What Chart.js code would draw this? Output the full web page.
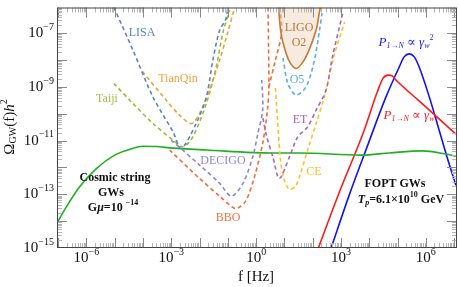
<!DOCTYPE html>
<html>
<head>
<meta charset="utf-8">
<script src="https://cdn.jsdelivr.net/npm/chart.js@4"></script>
<style>
  html, body { margin: 0; padding: 0; background: #fff; }
  #wrap { width: 459px; height: 287px; }
</style>
</head>
<body>
<div id="wrap"><canvas id="gwChart"></canvas></div>
<script>
// ĐƯỜNG CONG ĐỘ NHẠY VÀ PHỔ SÓNG HẤP DẪN (f [Hz], Omega h^2)
const lisaF = [9.33e-6, 4.37e-5, 2.24e-4, 1.15e-3, 2.24e-3, 7.59e-3, 1.74e-2, 2.95e-2, 5.13e-2, 8.32e-2, 0.1];
const lisaOmega = [9.33e-7, 2.4e-8, 4.27e-10, 2.14e-11, 5.13e-12, 4.37e-11, 4.27e-10, 1e-8, 1.32e-7, 3.16e-7, 8.71e-7];

const tianqinF = [9.55e-5, 6.61e-4, 1.95e-3, 5.13e-3, 1e-2, 2.24e-2, 5.13e-2, 9.77e-2, 0.17];
const tianqinOmega = [3.72e-9, 3.24e-10, 8.91e-11, 4.37e-11, 1.02e-10, 7.76e-10, 1.02e-8, 1.02e-7, 8.51e-7];

const taijiF = [9.33e-6, 4.37e-5, 2.24e-4, 1.15e-3, 2.57e-3, 5.75e-3, 1.74e-2, 3.89e-2, 6.61e-2, 0.115];
const taijiOmega = [1.35e-9, 2.45e-10, 4.37e-11, 1.05e-11, 5.89e-12, 1.38e-11, 2.45e-10, 5.62e-9, 1e-7, 7.41e-7];

const decigoF = [1e-3, 1e-2, 5.13e-2, 0.132, 0.339, 0.759, 1.12, 1.7, 1.58];
const decigoOmega = [1.05e-11, 1.23e-12, 2.57e-13, 8.51e-14, 2.51e-13, 2.51e-12, 1.62e-11, 1.38e-10, 1.82e-9];

const bboF = [8.71e-4, 1e-2, 5.13e-2, 0.174, 0.257, 0.447, 0.871, 1.7, 2.51, 2.82, 2.75, 2.63];
const bboOmega = [4.47e-12, 3.89e-13, 8.51e-14, 2.95e-14, 3.31e-14, 6.03e-14, 4.47e-13, 7.94e-12, 1.38e-10, 1e-9, 2.4e-8, 8.91e-7];
// nhánh thứ hai của BBO gần tần số cao
const bboBranchF = [2.82, 4.79, 7.94, 6.92];
const bboBranchOmega = [1e-9, 1e-8, 1.02e-7, 9.12e-7];

const ligoO2F = [6.17, 7.59, 11.5, 16.2, 25.7, 39.8, 66.1, 132, 174, 186];
const ligoO2Omega = [9.12e-7, 1e-7, 1.78e-8, 7.76e-9, 4.9e-9, 7.08e-9, 1.78e-8, 1.32e-7, 6.46e-7, 9.12e-7];

const o5F = [8.91, 13.2, 25.7, 58.9, 115, 174, 214];
const o5Omega = [1.2e-8, 1.35e-9, 5.01e-10, 1.02e-9, 1e-8, 1.32e-7, 5.62e-7];

const etF = [1.74, 2.29, 3.89, 6.61, 15.1, 29.5, 66.1, 132, 295, 501, 1150];
const etOmega = [6.92e-11, 1.62e-11, 2.51e-12, 3.89e-13, 2.51e-12, 1.38e-11, 3.24e-11, 1.38e-10, 7.59e-10, 1.35e-8, 5.62e-7];

const ceF = [4.79, 5.89, 7.24, 10, 15.1, 24.5, 33.9, 66.1, 132, 257, 575, 1350];
const ceOmega = [9.12e-10, 3.8e-11, 1.86e-12, 3.39e-13, 1.51e-13, 2e-13, 4.47e-13, 4.47e-12, 4.37e-11, 4.27e-10, 1.55e-8, 2.63e-7];

const stringF = [9.12e-8, 1.95e-7, 5.75e-7, 2.24e-6, 1e-5, 3.39e-5, 1e-4, 2.95e-4, 1.12e-3, 1.74e-2, 3.8, 33.9, 5250, 5.13e4, 7.41e5, 5.13e6, 1.15e7];
const stringOmega = [8.51e-15, 3.39e-14, 1.91e-13, 9.12e-13, 2.88e-12, 4.68e-12, 6.17e-12, 6.03e-12, 5.25e-12, 4.47e-12, 3.47e-12, 3.47e-12, 2.88e-12, 3.47e-12, 4.17e-12, 3.16e-12, 2.63e-12];

const foptLinearF = [158, 871, 6610, 1.91e4, 3.09e4, 4.79e4, 6.46e4, 8.71e4, 5.89e5, 1.15e7];
const foptLinearOmega = [1e-15, 1.2e-13, 2.45e-11, 6.46e-10, 2.14e-9, 2.75e-9, 2.57e-9, 1.82e-9, 2.95e-10, 1.74e-11];

const foptSquareF = [447, 1950, 7590, 3.89e4, 1.15e5, 1.7e5, 2.57e5, 3.89e5, 5.75e5, 1.32e6, 2.95e6, 5.13e6, 1.15e7];
const foptSquareOmega = [1e-15, 9.33e-14, 4.47e-12, 4.27e-10, 5.62e-9, 1.32e-8, 1.7e-8, 1.32e-8, 5.62e-9, 4.27e-10, 2.45e-11, 3.31e-12, 2.19e-13];

// nhãn trục (số mũ của 10)
const xTickExps = [-6, -3, 0, 3, 6];
const yTickExps = [-7, -9, -11, -13, -15];

const SERIF = '"Liberation Serif", "DejaVu Serif", serif';

function toPoints(fs, omegas) {
  return fs.map((f, i) => ({ x: f, y: omegas[i] }));
}

function curve(label, fs, omegas, color, dashed, extra) {
  return Object.assign(
    {
      label: label,
      data: toPoints(fs, omegas),
      showLine: true,
      borderColor: color,
      borderWidth: 1.6,
      borderDash: dashed ? [4, 3] : [],
      tension: 0.3,
      pointRadius: 0,
      fill: false,
    },
    extra || {}
  );
}

// vẽ chữ có chỉ số trên / dưới
function drawRich(ctx, parts, x, y, align) {
  let total = 0;
  parts.forEach((p) => {
    ctx.font = (p.style || "") + " " + p.size + "px " + SERIF;
    p.w = ctx.measureText(p.t).width;
    total += p.w;
  });
  let cx = align === "right" ? x - total : align === "left" ? x : x - total / 2;
  parts.forEach((p) => {
    ctx.font = (p.style || "") + " " + p.size + "px " + SERIF;
    ctx.fillText(p.t, cx, y + (p.dy || 0));
    cx += p.w;
  });
}

function pow10(exp) {
  return [
    { t: "10", size: 15 },
    { t: String(exp).replace("-", "\u2212"), size: 10, dy: -6 },
  ];
}

const axesPlugin = {
  id: "axesPlugin",
  afterDatasetsDraw(chart) {
    const ctx = chart.ctx;
    const a = chart.chartArea;
    const xs = chart.scales.x;
    const ys = chart.scales.y;
    ctx.save();

    // vạch chia nhỏ hướng vào trong, 4 cạnh
    ctx.lineWidth = 1;
    for (let e = -8; e <= 7; e++) {
      for (let m = 1; m <= 9; m++) {
        const v = m * Math.pow(10, e);
        const len = m === 1 ? 10 : 5;
        ctx.strokeStyle = m === 1 ? "#8a8a8a" : "#b5b5b5";
        const px = Math.round(xs.getPixelForValue(v)) + 0.5;
        if (px > a.left && px < a.right) {
          ctx.beginPath();
          ctx.moveTo(px, a.bottom);
          ctx.lineTo(px, a.bottom - len);
          ctx.moveTo(px, a.top);
          ctx.lineTo(px, a.top + len);
          ctx.stroke();
        }
      }
    }
    for (let e = -16; e <= -6; e++) {
      for (let m = 1; m <= 9; m++) {
        const v = m * Math.pow(10, e);
        const len = m === 1 ? 10 : 5;
        ctx.strokeStyle = m === 1 ? "#8a8a8a" : "#b5b5b5";
        const py = Math.round(ys.getPixelForValue(v)) + 0.5;
        if (py > a.top && py < a.bottom) {
          ctx.beginPath();
          ctx.moveTo(a.left, py);
          ctx.lineTo(a.left + len, py);
          ctx.moveTo(a.right, py);
          ctx.lineTo(a.right - len, py);
          ctx.stroke();
        }
      }
    }

    // khung
    ctx.strokeStyle = "#444";
    ctx.strokeRect(a.left + 0.5, a.top + 0.5, a.right - a.left - 1, a.bottom - a.top - 1);

    // nhãn trục
    ctx.fillStyle = "#111";
    ctx.textBaseline = "middle";
    xTickExps.forEach((e) => {
      drawRich(ctx, pow10(e), xs.getPixelForValue(Math.pow(10, e)), 258, "center");
    });
    yTickExps.forEach((e) => {
      drawRich(ctx, pow10(e), 54, ys.getPixelForValue(Math.pow(10, e)), "right");
    });
    drawRich(ctx, [{ t: "f [Hz]", size: 15 }], 256, 277, "center");

    ctx.save();
    ctx.translate(10, 127);
    ctx.rotate(-Math.PI / 2);
    drawRich(ctx, [
      { t: "\u03A9", size: 15 },
      { t: "GW", size: 10, dy: 3 },
      { t: "(f)", size: 15 },
      { t: "h", size: 15, style: "italic" },
      { t: "2", size: 10, dy: -6 },
    ], 0, 0, "center");
    ctx.restore();

    // tên các máy dò
    const tags = [
      ["LISA", "#5b84c4", 142, 33],
      ["TianQin", "#eea43a", 178, 79],
      ["Taiji", "#a2bf4a", 107, 99],
      ["DECIGO", "#9488d2", 223, 161],
      ["BBO", "#f2703e", 228, 218],
      ["LIGO", "#b8773a", 299, 28],
      ["O2", "#b8773a", 299, 43],
      ["O5", "#5ab0dd", 297, 80],
      ["ET", "#a668b8", 300, 120],
      ["CE", "#f7bd2a", 314, 172],
    ];
    tags.forEach((t) => {
      ctx.fillStyle = t[1];
      drawRich(ctx, [{ t: t[0], size: 12 }], t[2], t[3], "center");
    });

    ctx.fillStyle = "#1a1aff";
    drawRich(ctx, [
      { t: "P", size: 13, style: "italic" },
      { t: "1\u2192N", size: 8, style: "italic", dy: 3 },
      { t: " \u221D ", size: 13 },
      { t: "\u03B3", size: 13, style: "italic" },
      { t: "w", size: 8, style: "italic", dy: 3 },
      { t: "2", size: 8, dy: -5 },
    ], 406, 43, "center");

    ctx.fillStyle = "#ff2020";
    drawRich(ctx, [
      { t: "P", size: 13, style: "italic" },
      { t: "1\u2192N", size: 8, style: "italic", dy: 3 },
      { t: " \u221D ", size: 13 },
      { t: "\u03B3", size: 13, style: "italic" },
      { t: "w", size: 8, style: "italic", dy: 3 },
    ], 409, 116, "center");

    ctx.fillStyle = "#111";
    drawRich(ctx, [{ t: "Cosmic string", size: 12, style: "bold" }], 115, 178, "center");
    drawRich(ctx, [{ t: "GWs", size: 12, style: "bold" }], 111, 193, "center");
    drawRich(ctx, [
      { t: "G", size: 12, style: "bold" },
      { t: "\u03BC", size: 12, style: "italic bold" },
      { t: "=10 ", size: 12, style: "bold" },
      { t: "\u221214", size: 8, style: "bold", dy: -5 },
    ], 113, 208, "center");

    drawRich(ctx, [{ t: "FOPT GWs", size: 12, style: "bold" }], 395, 184, "center");
    drawRich(ctx, [
      { t: "T", size: 12, style: "italic bold" },
      { t: "p", size: 8, style: "italic bold", dy: 3 },
      { t: "=6.1\u00D710", size: 12, style: "bold" },
      { t: "10", size: 8, style: "bold", dy: -5 },
      { t: " GeV", size: 12, style: "bold" },
    ], 401, 200, "center");

    ctx.restore();
  },
};

const smooth = { cubicInterpolationMode: "monotone" };

const gwChart = document.querySelector("#gwChart");
if (gwChart) {
  new Chart(gwChart, {
    type: "scatter",
    data: {
      datasets: [
        curve("LIGO O2", ligoO2F, ligoO2Omega, "#c47a34", false, {
          fill: "end",
          backgroundColor: "rgba(238, 208, 182, 0.45)",
        }),
        curve("O5", o5F, o5Omega, "#5ab0dd", true),
        curve("LISA", lisaF, lisaOmega, "#5b84c4", true),
        curve("TianQin", tianqinF, tianqinOmega, "#f0a030", true),
        curve("Taiji", taijiF, taijiOmega, "#9cbb3c", true),
        curve("DECIGO", decigoF, decigoOmega, "#9284d2", true),
        curve("BBO", bboF, bboOmega, "#f26b3a", true),
        curve("BBO (nhánh)", bboBranchF, bboBranchOmega, "#f26b3a", true),
        curve("ET", etF, etOmega, "#a668b8", true),
        curve("CE", ceF, ceOmega, "#ffc125", true),
        curve("Cosmic string", stringF, stringOmega, "#20b020", false, smooth),
        curve("P ~ gamma_w", foptLinearF, foptLinearOmega, "#ff1a1a", false, smooth),
        curve("P ~ gamma_w^2", foptSquareF, foptSquareOmega, "#1010ff", false, smooth),
      ],
    },
    options: {
      responsive: true,
      maintainAspectRatio: false,
      animation: false,
      layout: {
        padding: { left: 57, top: 7.5, right: 2, bottom: 39 },
      },
      plugins: {
        legend: { display: false },
        tooltip: { enabled: false },
      },
      scales: {
        x: { type: "logarithmic", min: 9.12e-8, max: 1.26e7, display: false },
        y: { type: "logarithmic", min: 1e-15, max: 9.12e-7, display: false },
      },
    },
    plugins: [axesPlugin],
  });
}
</script>
</body>
</html>
